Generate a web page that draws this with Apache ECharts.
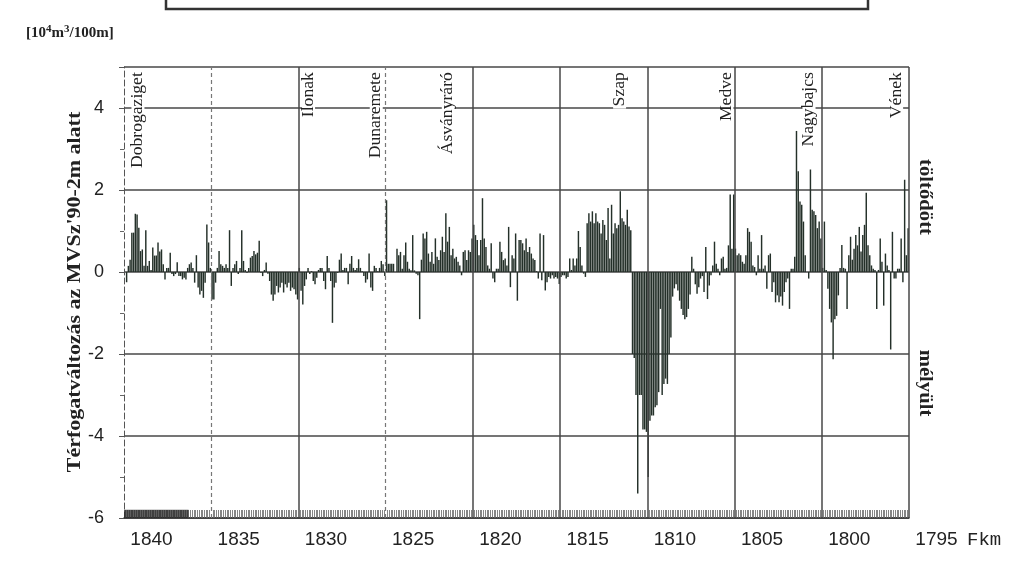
<!DOCTYPE html>
<html><head><meta charset="utf-8">
<script src="https://cdn.jsdelivr.net/npm/echarts@6/dist/echarts.min.js"></script>
<style>html,body{margin:0;padding:0;background:#fff}#c{width:1034px;height:562px}</style>
</head><body><div id="c"></div>
<script>
// River km (Fkm) of the start of each 5-km segment; bars every 100 m
const segmentStartKm = [1840, 1835, 1830, 1825, 1820, 1815, 1810, 1805, 1800];
const stepKm = 0.1;
// Volume change [10^4 m3 / 100 m] below MVSz'90-2m, per 100 m
const seg1840 = [0,-0.25,0.15,0.3,0.96,0.96,1.42,1.4,1.08,0.51, 0.55,0.15,1.02,0.15,0.27,0.05,0.6,0.4,0.4,0.72, 0.5,0.55,0.19,-0.18,0.1,0.1,0.47,-0.05,-0.1,-0.05, 0.24,-0.1,-0.1,-0.18,-0.14,-0.18,0.1,0.19,0.23,0.1, -0.26,0.41,-0.38,-0.55,-0.46,-0.63,-0.26,1.16,0.72,0.1];
const seg1835 = [-0.67,-0.67,-0.26,0.1,0.51,0.19,0.15,0.1,0.19,0.1, 1.02,-0.34,0.1,0.19,0.27,-0.05,0.1,1.02,0.27,0.05, -0.02,0.1,0.35,0.39,0.51,0.43,0.47,0.76,-0.02,-0.1, 0.05,0.23,-0.04,-0.22,-0.55,-0.7,-0.55,-0.34,-0.5,-0.38, -0.26,-0.5,-0.3,-0.38,-0.26,-0.46,-0.38,-0.42,-0.55,-0.67];
const seg1830 = [0.1,-0.46,-0.79,-0.34,-0.18,0.1,-0.05,0.02,-0.22,-0.3, -0.14,0.05,0.1,0.1,-0.22,-0.42,0.39,0.1,-0.22,-1.24, -0.38,-0.26,-0.02,0.3,0.45,0.05,0.1,0.1,-0.3,0.2, 0.39,0.1,0.05,0.1,0.31,0.1,0.02,-0.1,-0.26,-0.18, 0.45,-0.38,-0.46,0.15,0.1,0.02,0.1,0.27,0.19,-0.1];
const seg1825 = [1.75,0.2,0.2,0.2,0.2,0,0.57,0.41,0.49,0.08, 0.41,0.72,0.25,0.08,0.04,0.9,0.04,-0.04,-0.08,-1.15, 0.3,0.94,0.82,0.98,0.45,0.25,0.49,0.2,0.82,0.37, 0.29,0.53,0.86,0.49,1.43,0.74,1.1,0.41,0.57,0.33, 0.37,0.25,0.16,-0.08,0.49,0.53,0.29,0.53,0.49,0.82];
const seg1820 = [1.15,0.9,0.78,0.41,0.78,1.8,0.82,0.61,0.16,0.08, 0.7,-0.16,-0.25,0.08,0.08,0.74,0.49,0.29,0.33,0.16, 1.1,-0.37,0.41,0.33,0.94,-0.7,0.78,0.78,0.7,0.53, 0.82,0.49,0.61,0.45,0.33,0.29,0.02,-0.16,0.94,-0.2, 0.9,-0.45,-0.25,-0.12,-0.16,-0.08,-0.16,-0.12,-0.16,-0.29];
const seg1815 = [-0.12,-0.08,-0.08,-0.16,-0.12,0.33,0.05,0.33,0.16,0.33, 1.0,0.61,0.16,-0.04,-0.12,1.19,1.43,1.23,1.48,1.19, 1.43,1.23,1.19,0.94,1.27,1.15,0.78,1.56,0.33,1.64, 0.94,1.19,1.07,1.15,1.97,1.31,1.23,1.15,1.52,1.11, 1.02,-2.0,-2.1,-3.0,-5.4,-3.0,-3.0,-3.84,-3.84,-3.9];
const seg1810 = [-5.0,-3.63,-3.5,-3.5,-3.3,-3.25,-2.93,-0.9,-3.0,-2.73, -2.6,-2.73,-2.0,-1.6,-0.6,-0.4,-0.3,-0.45,-0.7,-0.9, -1.05,-1.15,-1.1,-0.9,-0.55,0.37,0.08,-0.3,-0.53,-0.37, -0.16,-0.1,-0.49,0.61,-0.66,-0.33,-0.08,0.16,0.74,0.2, 0.08,-0.08,0.33,0.37,0.08,0.1,0.65,1.89,0.57,1.89];
const seg1805 = [0.57,0.41,0.45,0.41,0.25,0.2,0.41,1.07,0.98,0.74, 0.16,0.12,-0.08,0.41,0.08,0.9,0.08,0.16,-0.41,0.41, 0.45,-0.49,-0.25,-0.74,-0.57,-0.74,-0.6,-0.82,-0.49,-0.25, -0.16,-0.9,0.08,0.08,0.37,3.44,2.46,1.72,1.64,1.23, 0.41,0,-0.16,2.5,1.52,1.48,1.39,1.07,1.23,0.82];
const seg1800 = [0.1,1.23,0.05,-0.41,-0.9,-1.23,-2.13,-1.15,-1.07,-0.57, 0.1,0.66,0.1,0.08,-0.9,0.41,0.86,0.3,0.57,0.9, 0.65,1.1,0.5,0.9,1.15,1.93,0.65,0.41,0.16,0.08, 0.05,-0.9,0.05,0.82,0.25,-0.82,0.45,0.16,0.05,-1.89, 0.98,-0.16,-0.16,0.08,0.08,0.82,-0.25,2.25,0.41,1.07];

const yTickLabels = ['-6','-4','-2','0','2','4'];
const placeNames = ['Dobrogaziget','Ilonak','Dunaremete','Ásványráró','Szap','Medve','Nagybajcs','Vének'];
const placeKm = [1839.2, 1829.42, 1825.54, 1821.41, 1811.59, 1805.44, 1800.73, 1795.71];
const solidLineKm = [1830, 1820, 1815, 1810, 1805, 1800, 1795];
const dashedLineKm = [1835, 1825];
const darkBandKm = [1840, 1836.3];

const segments = [seg1840, seg1835, seg1830, seg1825, seg1820, seg1815, seg1810, seg1805, seg1800];
const barData = [];
segments.forEach((seg, s) => seg.forEach((v, i) => {
  barData.push([Math.round((segmentStartKm[s] - stepKm * i - stepKm / 2) * 1000) / 1000, v]);
}));

const ink = '#222';
const gridInk = '#474747';
const chart = echarts.init(document.getElementById('c'));
const lineItems = solidLineKm.map(k => ({xAxis: k, lineStyle: {type: 'solid', color: gridInk, width: 1.5}}))
  .concat(dashedLineKm.map(k => ({xAxis: k, lineStyle: {type: [4, 3], color: '#777', width: 1.2}})));

chart.setOption({
  animation: false,
  backgroundColor: '#fff',
  grid: {left: 124, right: 125, top: 67, bottom: 44},
  xAxis: {
    type: 'value', min: 1795, max: 1840, interval: 5, inverse: true,
    axisLine: {show: true, onZero: false, lineStyle: {color: '#333', width: 1.5}},
    axisTick: {show: false, inside: true},
    minorTick: {show: true, splitNumber: 50, length: 8, lineStyle: {color: '#666', width: 0.8}},
    splitLine: {show: false},
    axisLabel: {fontFamily: 'Liberation Sans', fontSize: 19, color: ink, margin: 12, padding: [0, 0, 0, 55],
      formatter: v => String(v)}
  },
  yAxis: {
    type: 'value', min: -6, max: 5, interval: 2,
    axisLine: {show: true, lineStyle: {color: '#555', type: [6, 3], width: 1}},
    axisTick: {show: true, length: 5, lineStyle: {color: '#555'}},
    minorTick: {show: true, splitNumber: 2, length: 4, lineStyle: {color: '#666'}},
    splitLine: {show: true, lineStyle: {color: gridInk, width: 1.5}},
    axisLabel: {fontFamily: 'Liberation Sans', fontSize: 18, color: ink, margin: 20,
      formatter: v => yTickLabels.indexOf(String(v)) >= 0 ? String(v) : ''}
  },
  series: [{
    type: 'bar', data: barData, barWidth: 1.45,
    itemStyle: {color: '#243029'},
    markLine: {silent: true, symbol: 'none', label: {show: false}, data: lineItems},
    markArea: {silent: true, itemStyle: {color: 'rgba(40,40,40,0.75)'},
      data: [[{xAxis: darkBandKm[0], yAxis: -6}, {xAxis: darkBandKm[1], yAxis: -5.8}]]}
  }]
});

const serif = 'Liberation Serif';
const graphics = [];
placeNames.forEach((name, i) => {
  const p = chart.convertToPixel({gridIndex: 0}, [placeKm[i], 5]);
  graphics.push({type: 'text', x: p[0], y: p[1] + 3, rotation: Math.PI / 2, scaleX: 1.1, z: 10,
    style: {text: name, font: '16px "' + serif + '"', fill: ink, align: 'right', verticalAlign: 'middle',
      lineHeight: 13, backgroundColor: '#fff', padding: [0, 2]}});
});
graphics.push({type: 'text', x: 75, y: 292, rotation: Math.PI / 2, scaleX: 1.22,
  style: {text: "Térfogatváltozás az MVSz'90-2m alatt", font: 'bold 18px "' + serif + '"', fill: ink,
    align: 'center', verticalAlign: 'middle'}});
graphics.push({type: 'text', x: 26, y: 33,
  style: {text: '[10{s|4}m{s|3}/100m]', font: 'bold 15px "' + serif + '"', fill: ink, align: 'left', verticalAlign: 'middle',
    rich: {s: {fontSize: 11, fontWeight: 'bold', fontFamily: serif, verticalAlign: 'top', padding: [0, 0, 8, 0]}}}});
graphics.push({type: 'text', x: 925, y: 197, rotation: -Math.PI / 2, scaleX: 1.15,
  style: {text: 'töltődött', font: 'bold 18px "' + serif + '"', fill: ink, align: 'center', verticalAlign: 'middle'}});
graphics.push({type: 'text', x: 925, y: 383, rotation: -Math.PI / 2, scaleX: 1.15,
  style: {text: 'mélyült', font: 'bold 18px "' + serif + '"', fill: ink, align: 'center', verticalAlign: 'middle'}});
graphics.push({type: 'text', x: 967, y: 540,
  style: {text: 'Fkm', font: '19px "Liberation Mono"', fill: ink, align: 'left', verticalAlign: 'middle'}});
graphics.push({type: 'polyline', shape: {points: [[166, 0], [166, 9], [868, 9], [868, 0]]},
  style: {stroke: '#333', lineWidth: 2.5, fill: null}});
chart.setOption({graphic: graphics});
</script></body></html>
